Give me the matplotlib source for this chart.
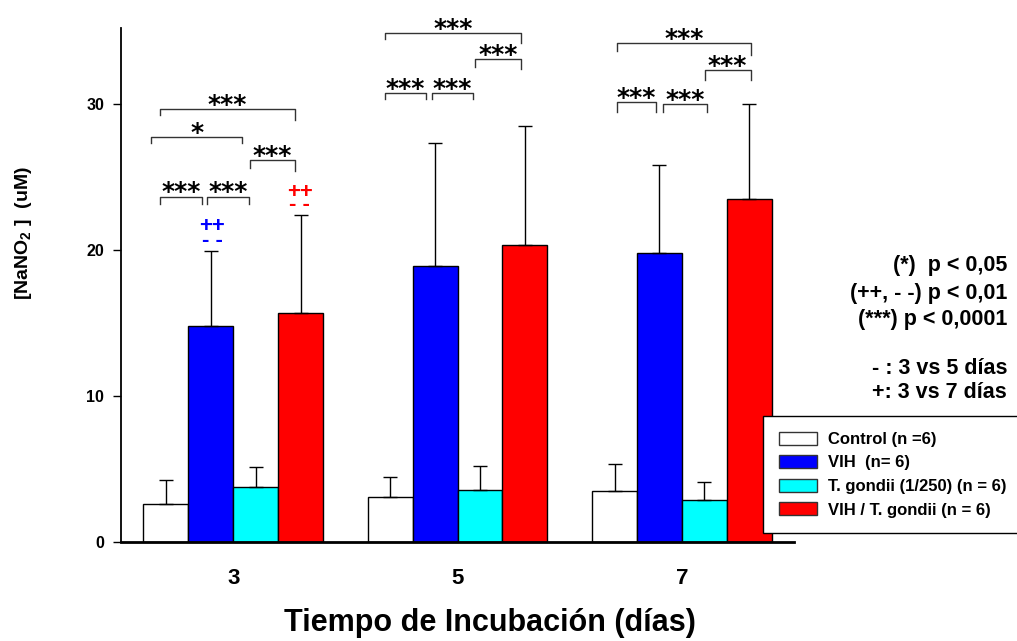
import matplotlib
matplotlib.use('Agg')
import matplotlib.pyplot as plt
import numpy as np

plt.rcParams['font.family'] = ['Liberation Sans', 'DejaVu Sans']
plt.rcParams['font.weight'] = 'bold'
plt.rcParams['mathtext.fontset'] = 'custom'
plt.rcParams['mathtext.rm'] = 'Liberation Sans:bold'
plt.rcParams['mathtext.it'] = 'Liberation Sans:bold'
plt.rcParams['mathtext.bf'] = 'Liberation Sans:bold'

# datos
dias = ['3', '5', '7']
grupos = ['Control (n =6)', 'VIH  (n= 6)', 'T. gondii (1/250) (n = 6)', 'VIH / T. gondii (n = 6)']
colores = ['white', '#0000FF', '#00FFFF', '#FF0000']

control = [2.55, 3.05, 3.45]
vih = [14.8, 18.9, 19.8]
tgondii = [3.75, 3.55, 2.85]
vih_tg = [15.7, 20.3, 23.5]

control_sd = [1.7, 1.35, 1.85]
vih_sd = [5.1, 8.4, 6.0]
tgondii_sd = [1.35, 1.65, 1.25]
vih_tg_sd = [6.7, 8.2, 6.5]

medias = [control, vih, tgondii, vih_tg]
sds = [control_sd, vih_sd, tgondii_sd, vih_tg_sd]

# corchetes de significancia: (x1, x2, y, caida izq, caida der, texto)
corchetes = [
    (-0.326, -0.139, 23.65, 23.15, 23.15, '***'),
    (-0.117, 0.069, 23.65, 23.15, 23.15, '***'),
    (-0.367, 0.041, 27.76, 27.33, 27.33, '*'),
    (0.075, 0.275, 26.15, 25.6, 25.4, '***'),
    (-0.326, 0.275, 29.64, 29.25, 28.9, '***'),
    (0.676, 0.859, 30.76, 30.35, 30.35, '***'),
    (0.886, 1.069, 30.76, 30.35, 30.35, '***'),
    (1.077, 1.281, 33.07, 32.54, 32.39, '***'),
    (0.676, 1.281, 34.88, 34.47, 34.19, '***'),
    (1.711, 1.883, 30.1, 29.48, 29.48, '***'),
    (1.916, 2.112, 30.0, 29.48, 29.48, '***'),
    (2.101, 2.307, 32.32, 31.65, 31.65, '***'),
    (1.711, 2.307, 34.17, 33.64, 33.37, '***'),
]

fig = plt.figure(figsize=(10.17, 6.41), dpi=100)
ax = fig.add_axes([0.119, 0.1552, 0.6618, 0.801])

x = np.arange(len(dias))
ancho = 0.2
for i in range(4):
    pos = x + (i - 1.5) * ancho
    ax.bar(pos, medias[i], ancho, color=colores[i], edgecolor='black', linewidth=1,
           label=grupos[i], zorder=2)
    ax.errorbar(pos, medias[i], yerr=[np.zeros(3), sds[i]], fmt='none', ecolor='black',
                elinewidth=1, capsize=5, capthick=1, zorder=3)

for x1, x2, y, yl, yr, txt in corchetes:
    ax.plot([x1, x1, x2, x2], [yl, y, y, yr], color='#333333', lw=1, clip_on=False, zorder=4)
    ax.text((x1 + x2) / 2, y - 0.2, txt, ha='center', va='baseline', fontsize=18,
            family='DejaVu Sans', fontweight='bold', clip_on=False)

# marcas ++ / - -
ax.text(-0.093, 20.29, '++\n- -', color='#0000FF', ha='center', va='baseline',
        multialignment='center', fontsize=16, fontweight='bold', linespacing=0.52)
ax.text(0.296, 22.7, '++\n- -', color='#FF0000', ha='center', va='baseline',
        multialignment='center', fontsize=16, fontweight='bold', linespacing=0.45)

ax.set_xlim(-0.5, 2.5)
ax.set_ylim(0, 35.2)
ax.set_xticks(x)
ax.set_xticklabels(dias, fontsize=16, fontweight='bold')
ax.tick_params(axis='x', length=0, pad=19)
ax.set_yticks([0, 10, 20, 30])
ax.set_yticklabels(['0', '10', '20', '30'], fontsize=11.5, fontweight='bold')
ax.tick_params(axis='y', length=6, width=1, pad=6)
for s in ['top', 'right']:
    ax.spines[s].set_visible(False)
ax.spines['left'].set_linewidth(1.3)
ax.spines['bottom'].set_linewidth(2)

fig.text(490 / 1017, 1 - 623 / 641, 'Tiempo de Incubación (días)', ha='center', va='center',
         fontsize=22, fontweight='bold')
fig.text(23 / 1017, 1 - 233 / 641, r'[NaNO$_2$ ]  (uM)', rotation=90, ha='center', va='center',
         fontsize=14, fontweight='bold')

notas = ['(*)  p < 0,05', '(++, - -) p < 0,01', '(***) p < 0,0001', '- : 3 vs 5 días', '+: 3 vs 7 días']
notas_y = [266, 294, 319, 369, 393]
for t, py in zip(notas, notas_y):
    fig.text(1007 / 1017, 1 - py / 641, t, ha='right', va='center', fontsize=15.5, fontweight='bold')

leg = fig.legend(loc='upper left', bbox_to_anchor=(763 / 1017, 1 - 538 / 641, 260 / 1017, 122 / 641),
                 mode='expand', fontsize=12, frameon=True, fancybox=False, framealpha=1,
                 edgecolor='black', borderpad=0.95, labelspacing=0.5, handlelength=2.3,
                 handleheight=0.8, handletextpad=0.65, borderaxespad=0)
leg.get_frame().set_linewidth(1)
for h in leg.legend_handles:
    h.set_edgecolor('#333333')
for t in leg.get_texts():
    t.set_fontweight('bold')

plt.savefig('out.png', dpi=100)
